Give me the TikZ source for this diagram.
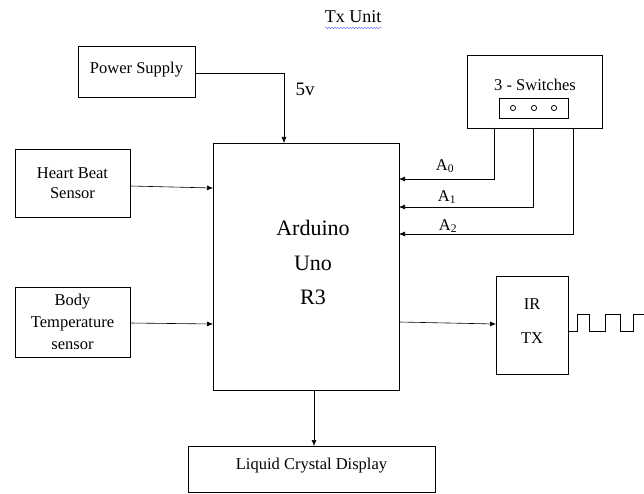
\documentclass[tikz,border=0pt]{standalone}
\usepackage{fontspec}
\setmainfont{Liberation Serif}
\usetikzlibrary{arrows.meta,decorations.pathmorphing}
\tikzset{
  blk/.style={draw, line width=0.9pt, inner sep=0pt},
  lbl/.style={font=\fontsize{16.5}{20}\selectfont, align=center},
  big/.style={font=\fontsize{22}{26}\selectfont},
  wire/.style={line width=0.6pt},
  arr/.style={wire, -{Latex[length=6pt,width=5pt]}},
}
\begin{document}
\begin{tikzpicture}[x=1pt,y=-1pt]
\useasboundingbox (0,0) rectangle (644,494);
% title
\node[font=\fontsize{18}{22}\selectfont] (title) at (353,17) {Tx Unit};
\draw[blue!60, line width=0.4pt, decorate, decoration={snake, amplitude=0.8pt, segment length=3pt}] (325,28) -- (382,28);
% boxes
\draw[blk] (78,46) rectangle (195,97);
\node[lbl] (ps) at (136.5,70) {Power Supply};
\coordinate (psE) at (195,73);
\draw[blk] (213,143) rectangle (399,390);
\node[big] (ard1) at (313,228) {Arduino};
\node[big] (ard2) at (313,263) {Uno};
\node[big] (ard3) at (313,297) {R3};
\draw[blk] (15,149) rectangle (130,217);
\node[lbl] (hb) at (72.5,183) {Heart Beat\\Sensor};
\draw[blk] (15,287) rectangle (130,357);
\node[lbl, font=\fontsize{16.5}{22}\selectfont] (bt) at (72.5,322) {Body\\Temperature\\sensor};
\draw[blk] (467,55) rectangle (602,128);
\node[lbl] (sw) at (535,85) {3 - Switches};
\draw[blk] (499,98) rectangle (568,118);
\foreach \cx in {513,534,554} \draw[line width=0.8pt] (\cx,108) circle [radius=2.6];
\draw[blk] (496,276) rectangle (568,374);
\node[lbl] (ir1) at (532,304) {IR};
\node[lbl] (ir2) at (532,338) {TX};
\draw[blk] (188,446) rectangle (435,492);
\node[lbl] (lcd) at (311.5,466) {Liquid Crystal Display};
% connectors
\draw[arr] (psE) -- (284,73) -- (284,143);
\node[font=\fontsize{19}{22}\selectfont] (fv) at (305,89) {5v};
\draw[arr] (130,186) -- (213,188);
\draw[arr] (130,323) -- (213,324);
\draw[arr] (494,128) -- (494,179) -- (399,179);
\draw[arr] (533,128) -- (533,207) -- (399,207);
\draw[arr] (573,128) -- (573,234) -- (399,234);
\node[lbl] (a0) at (445,166) {A\textsubscript{0}};
\node[lbl] (a1) at (447,197) {A\textsubscript{1}};
\node[lbl] (a2) at (448,226) {A\textsubscript{2}};
\draw[arr] (399,322) -- (496,324);
\draw[arr] (314,390) -- (314,446);
% square wave
\draw[wire] (568,331) -- (577,331) -- (577,314) -- (589,314) -- (589,331) -- (605,331) -- (605,314) -- (620,314) -- (620,331) -- (633,331) -- (633,314) -- (644,314);
\end{tikzpicture}
\end{document}
